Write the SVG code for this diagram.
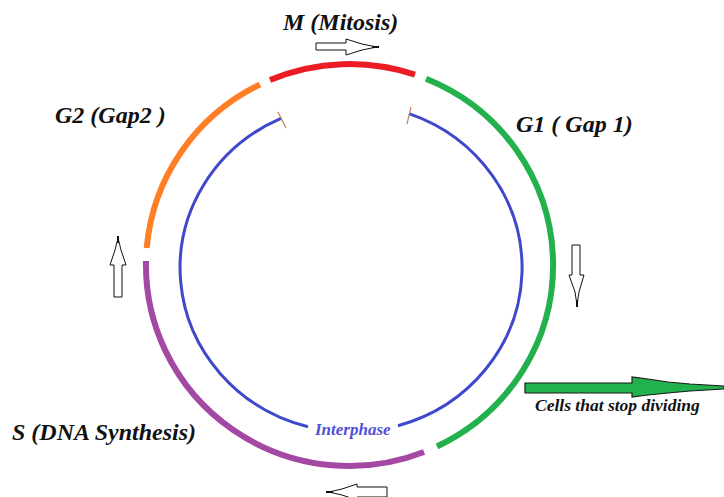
<svg xmlns="http://www.w3.org/2000/svg" width="724" height="497" viewBox="0 0 724 497">
  <style>
    .phase { fill: none; stroke-width: 6; stroke-linecap: butt; }
    .inner { fill: none; stroke: #3f48cc; stroke-width: 3; }
    .tick { stroke: #c8825a; stroke-width: 1.2; fill: none; }
    .label { font-family: "Liberation Serif", "Times New Roman", serif; font-weight: bold; font-style: italic; fill: #111; }
    .dir { fill: #fff; stroke: #111; stroke-width: 1; stroke-linejoin: miter; }
  </style>
  <rect width="724" height="497" fill="#fff"/>

  <!-- outer ring: the four phases -->
  <g id="phase-m">
    <path class="phase" stroke="#ec1c24" d="M270,80 A203.5,201 0 0 1 415,74.7"/>
    <text class="label" x="283" y="30" font-size="24">M (Mitosis)</text>
  </g>
  <g id="phase-g1">
    <path class="phase" stroke="#22b14c" d="M426,78.7 A203.5,201 0 0 1 437,446.5"/>
    <text class="label" x="516" y="132" font-size="24">G1 ( Gap 1)</text>
  </g>
  <g id="phase-s">
    <path class="phase" stroke="#a349a4" d="M424,452 A203.5,201 0 0 1 146,261"/>
    <text class="label" x="12" y="440" font-size="24">S (DNA Synthesis)</text>
  </g>
  <g id="phase-g2">
    <path class="phase" stroke="#ff7f27" d="M146.7,248 A203.5,201 0 0 1 260,84.5"/>
    <text class="label" x="55" y="123" font-size="24">G2 (Gap2 )</text>
  </g>

  <!-- inner ring: interphase -->
  <g id="interphase">
    <path class="inner" d="M409,113.7 A171,164 0 0 1 398,425.7"/>
    <path class="inner" d="M308,426.7 A171,164 0 0 1 281,118.4"/>
    <line class="tick" x1="278" y1="112" x2="286" y2="128"/>
    <line class="tick" x1="411" y1="107" x2="407" y2="124"/>
    <text x="315" y="435" font-family="'Liberation Serif', 'Times New Roman', serif" font-style="italic" font-weight="bold" font-size="17" fill="#5050d8">Interphase</text>
  </g>

  <!-- exit from the cycle -->
  <g id="exit">
    <polygon fill="#22b14c" stroke="#1a1a1a" stroke-width="1.2" points="525,383 632,383 632,377 648,379 668,382 690,384 724,386 724,389 690,391 668,393 648,395 632,397 632,393 525,393"/>
    <text class="label" x="535" y="411" font-size="17.5">Cells that stop dividing</text>
  </g>

  <!-- direction arrows -->
  <g id="connectors">
    <polygon class="dir" points="316,43 346,43 346,39 362,44 377,47 362,50 346,55 346,50 316,50"/>
    <line x1="372" y1="47" x2="379" y2="47" stroke="#111" stroke-width="2"/>
    <polygon class="dir" points="572,245 580,245 580,275 584,275 579,292 577,305 575,292 569,275 572,275"/>
    <line x1="577" y1="300" x2="577" y2="307" stroke="#111" stroke-width="2"/>
    <polygon class="dir" points="387,487 357,487 357,484 342,489 329,492 342,495 357,500 357,497 387,497"/>
    <line x1="326" y1="492" x2="333" y2="492" stroke="#111" stroke-width="2"/>
    <polygon class="dir" points="114,297 122,297 122,265 126,265 121,250 118,238 115,250 110,265 114,265"/>
    <line x1="118" y1="236" x2="118" y2="243" stroke="#111" stroke-width="2"/>
  </g>
</svg>
